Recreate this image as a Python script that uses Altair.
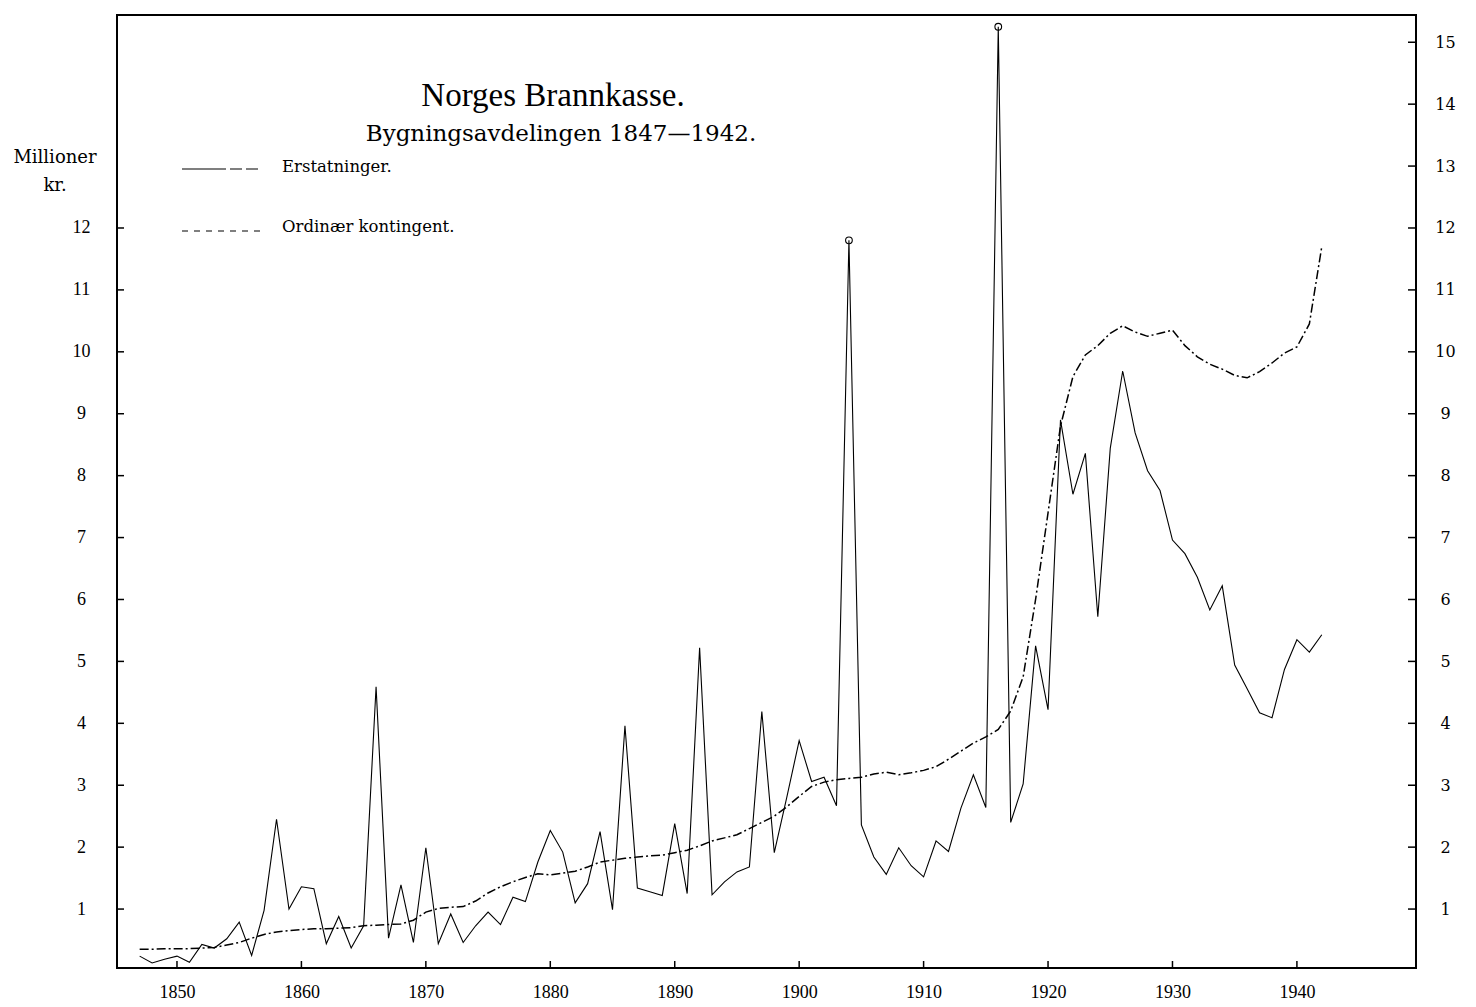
import altair as alt
import pandas as pd

years = list(range(1847, 1943))

erstatninger = [
    0.24, 0.13, 0.19, 0.24, 0.14, 0.43, 0.37, 0.52, 0.79, 0.25,
    0.98, 2.45, 1.00, 1.36, 1.33, 0.44, 0.88, 0.37, 0.73, 4.59,
    0.53, 1.39, 0.46, 1.99, 0.44, 0.92, 0.46, 0.73, 0.95, 0.75,
    1.19, 1.12, 1.76, 2.27, 1.92, 1.10, 1.41, 2.25, 0.99, 3.96,
    1.34, 1.28, 1.22, 2.38, 1.25, 5.22, 1.23, 1.44, 1.60, 1.68,
    4.19, 1.91, 2.80, 3.72, 3.06, 3.13, 2.67, 11.80, 2.36, 1.84,
    1.56, 1.99, 1.70, 1.52, 2.10, 1.93, 2.63, 3.17, 2.64, 15.25,
    2.40, 3.02, 5.25, 4.22, 8.90, 7.70, 8.36, 5.72, 8.44, 9.69,
    8.69, 8.08, 7.76, 6.96, 6.74, 6.36, 5.83, 6.22, 4.94, 4.56,
    4.17, 4.09, 4.87, 5.35, 5.15, 5.43,
]

kontingent = [
    0.35, 0.35, 0.36, 0.36, 0.36, 0.37, 0.38, 0.42, 0.46, 0.53,
    0.59, 0.63, 0.65, 0.67, 0.68, 0.68, 0.69, 0.70, 0.73, 0.74,
    0.75, 0.76, 0.82, 0.95, 1.01, 1.03, 1.04, 1.13, 1.26, 1.36,
    1.44, 1.51, 1.57, 1.55, 1.58, 1.61, 1.68, 1.76, 1.79, 1.82,
    1.84, 1.86, 1.87, 1.91, 1.95, 2.02, 2.10, 2.15, 2.20, 2.30,
    2.40, 2.50, 2.65, 2.82, 2.98, 3.05, 3.09, 3.11, 3.13, 3.18,
    3.21, 3.17, 3.20, 3.24, 3.30, 3.42, 3.55, 3.68, 3.78, 3.90,
    4.20, 4.75, 6.00, 7.40, 8.80, 9.60, 9.95, 10.10, 10.30, 10.42,
    10.32, 10.25, 10.30, 10.35, 10.10, 9.92, 9.80, 9.72, 9.62, 9.58,
    9.68, 9.82, 9.98, 10.08, 10.45, 11.70,
]

peak_years = [1904, 1916]
x_ticks = [1850, 1860, 1870, 1880, 1890, 1900, 1910, 1920, 1930, 1940]
left_ticks = list(range(1, 13))
right_ticks = list(range(1, 16))

title_text = "Norges Brannkasse."
subtitle_text = "Bygningsavdelingen 1847—1942."
legend_1 = "Erstatninger."
legend_2 = "Ordinær kontingent."
unit_1 = "Millioner"
unit_2 = "kr."

FONT = "DejaVu Serif"
FONT2 = "Liberation Serif"
W, H = 1299, 953

df = pd.DataFrame({"year": years, "erst": erstatninger, "kont": kontingent})

xscale = alt.Scale(domain=[1845.18, 1949.57], nice=False, zero=False)
yscale = alt.Scale(domain=[0.048, 15.44], nice=False, zero=False)

x_axis = alt.Axis(values=x_ticks, format="d", title=None, labelPadding=15,
                  labelFontSize=18, labelFont=FONT2, labelColor="black",
                  domain=False, ticks=False, grid=False, orient="bottom")

base = alt.Chart(df)

erst_line = base.mark_line(color="black", strokeWidth=1.1).encode(
    x=alt.X("year:Q", scale=xscale, axis=x_axis),
    y=alt.Y("erst:Q", scale=yscale,
            axis=alt.Axis(values=left_ticks, orient="left", title=None, labelAlign="center",
                          labelPadding=36, labelFontSize=18, labelFont=FONT2, labelColor="black")),
)

kont_line = base.mark_line(color="black", strokeWidth=1.5, strokeDash=[9, 3, 2, 3]).encode(
    x=alt.X("year:Q", scale=xscale, axis=x_axis),
    y=alt.Y("kont:Q", scale=yscale,
            axis=alt.Axis(values=right_ticks, orient="right", title=None, labelAlign="center",
                          labelPadding=29, labelFontSize=16, labelFont=FONT, labelColor="black")),
)

peaks = base.transform_filter(
    alt.FieldOneOfPredicate(field="year", oneOf=peak_years)
).mark_point(shape="circle", filled=False, size=45, color="black", strokeWidth=1.1, opacity=1).encode(
    x=alt.X("year:Q", scale=xscale, axis=x_axis),
    y=alt.Y("erst:Q", scale=yscale, axis=None),
)

lt = alt.Chart(pd.DataFrame({"v": left_ticks})).mark_rule(color="black", strokeWidth=1.5).encode(
    y=alt.Y("v:Q", scale=yscale, axis=None), x=alt.value(0), x2=alt.value(7))
rt = alt.Chart(pd.DataFrame({"v": right_ticks})).mark_rule(color="black", strokeWidth=1.5).encode(
    y=alt.Y("v:Q", scale=yscale, axis=None), x=alt.value(W - 8), x2=alt.value(W))
bt = alt.Chart(pd.DataFrame({"year": x_ticks})).mark_rule(color="black", strokeWidth=1.5).encode(
    x=alt.X("year:Q", scale=xscale, axis=x_axis), y=alt.value(H - 7), y2=alt.value(H))


def label(text, x, y, size, align="center", font=FONT):
    return alt.Chart(pd.DataFrame({"label": [text]})).mark_text(
        font=font, fontSize=size, color="black", align=align, baseline="middle"
    ).encode(text="label:N", x=alt.value(x), y=alt.value(y))


title = label(title_text, 436, 81, 33, font=FONT2)
subtitle = label(subtitle_text, 444, 119, 23)
leg1_text = label(legend_1, 165, 152, 16.5, "left")
leg2_text = label(legend_2, 165, 212, 16.5, "left")
unit1 = label(unit_1, -62, 143, 18)
unit2 = label(unit_2, -62, 171, 18)

leg1_line = alt.Chart(pd.DataFrame({"k": [1]})).mark_rule(
    color="black", strokeWidth=1.1, strokeDash=[44, 4, 12, 4, 12, 4]
).encode(x=alt.value(65), x2=alt.value(145), y=alt.value(154))
leg2_line = alt.Chart(pd.DataFrame({"k": [1]})).mark_rule(
    color="black", strokeWidth=1.2, strokeDash=[6, 6]
).encode(x=alt.value(65), x2=alt.value(145), y=alt.value(216))

chart = alt.layer(
    erst_line, kont_line, peaks, lt, rt, bt,
    title, subtitle, leg1_line, leg1_text, leg2_line, leg2_text, unit1, unit2,
).resolve_axis(y="independent").properties(
    width=W, height=H,
    autosize=alt.AutoSizeParams(type="none"),
    padding={"left": 109, "top": 7, "right": 50, "bottom": 38},
    background="white",
).configure_view(stroke="black", strokeWidth=2).configure_axis(
    domain=False, ticks=False, grid=False
)

chart.save("out.html", embed_options={"renderer": "svg", "actions": False})
